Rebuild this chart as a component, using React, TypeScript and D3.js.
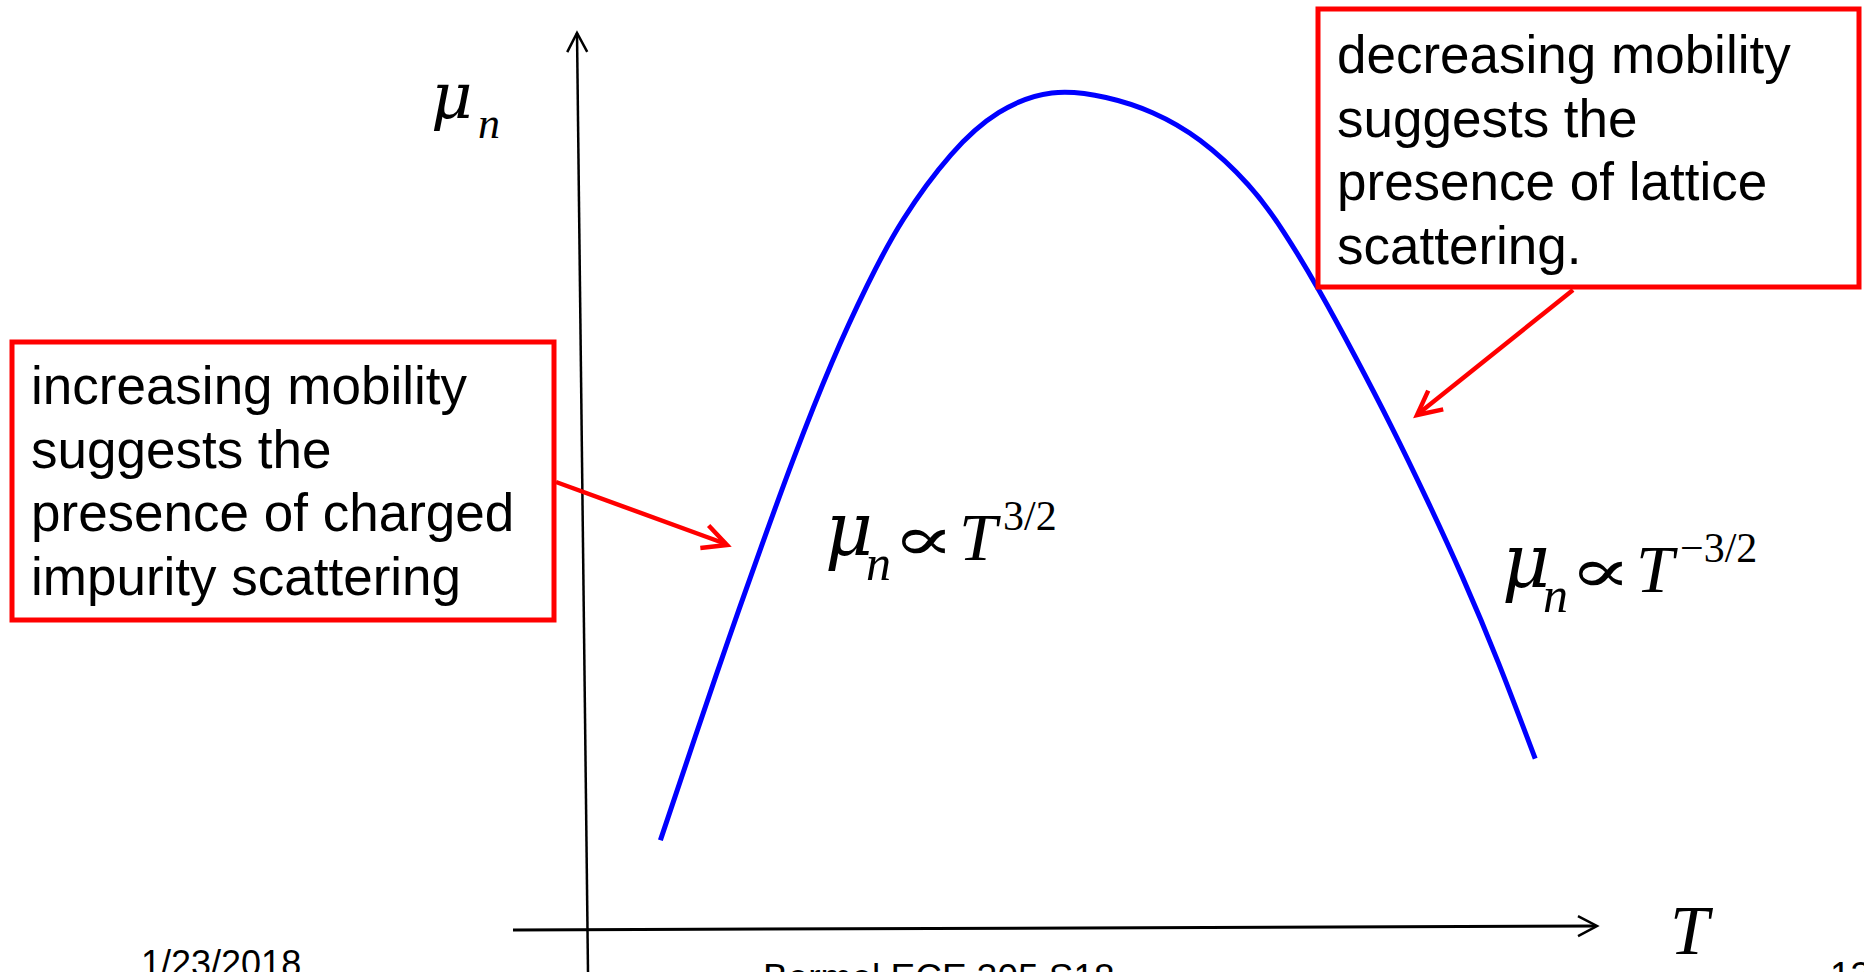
import React from "react";
import * as d3 from "d3";

// Schematic mobility vs temperature curve (arbitrary units, 0–100 on each axis)
const temperature = [13.6, 16.8, 19.8, 22.9, 25.9, 29.4, 32.7, 36.0, 40.4, 44.8, 49.7, 54.7, 59.0, 63.4, 67.8, 71.1, 74.4, 77.7, 81.0, 84.3, 87.6, 90.9, 94.3];
const mobility = [9.9, 21.4, 32.0, 42.6, 52.5, 63.1, 71.8, 79.1, 86.3, 91.0, 93.2, 92.7, 91.0, 87.9, 83.0, 77.7, 71.1, 63.8, 56.1, 47.9, 39.2, 29.7, 19.0];

const leftBoxLines = ["increasing mobility", "suggests the", "presence of charged", "impurity scattering"];
const rightBoxLines = ["decreasing mobility", "suggests the", "presence of lattice", "scattering."];
const footerLeft = "1/23/2018";
const footerCenter = "Bermel ECE 305 S18";
const footerRight = "13";

const W = 1864;
const H = 972;

export default function App() {
  const x = d3.scaleLinear().domain([0, 100]).range([513, 1597]);
  const y = d3.scaleLinear().domain([0, 100]).range([929, 32]);
  const pts: [number, number][] = temperature.map((t, i) => [x(t), y(mobility[i])]);
  const line = d3.line().curve(d3.curveNatural);
  const d = line(pts) || "";

  const serif = "'Liberation Serif', 'Times New Roman', 'DejaVu Serif', serif";
  const greek = "'DejaVu Serif', 'Liberation Serif', serif";
  const sans = "'Liberation Sans', Arial, Helvetica, sans-serif";

  const arrowHead = (tx: number, ty: number, fx: number, fy: number, len: number, half: number) => {
    const ang = Math.atan2(ty - fy, tx - fx);
    const bx = tx - len * Math.cos(ang);
    const by = ty - len * Math.sin(ang);
    const px = -Math.sin(ang) * half;
    const py = Math.cos(ang) * half;
    return `M${bx + px},${by + py}L${tx},${ty}L${bx - px},${by - py}`;
  };

  const formula = (mx: number, by: number, sup: string) => (
    <g>
      <text x={mx} y={by - 5} fontFamily={greek} fontStyle="italic" fontSize={74} fill="#000">μ</text>
      <text x={mx + 41} y={by + 20} fontFamily={serif} fontStyle="italic" fontSize={50} fill="#000">n</text>
      <text transform={`translate(${mx + 67},${by}) scale(1.5,1)`} x={0} y={0} fontFamily={greek} fontSize={62} fill="#000">∝</text>
      <text x={mx + 134} y={by} fontFamily={serif} fontStyle="italic" fontSize={68} fill="#000">T</text>
      <text x={mx + 178} y={by - 30} fontFamily={serif} fontSize={42} fill="#000">{sup}</text>
    </g>
  );

  return (
    <svg width={W} height={H} style={{ position: "absolute", left: 0, top: 0, display: "block", background: "#fff" }}>
      <rect x={0} y={0} width={W} height={H} fill="#fff" />
      {/* axes */}
      <line x1={577} y1={33} x2={588} y2={972} stroke="#000" strokeWidth={2.5} />
      <path d={arrowHead(577, 33, 588, 972, 19, 10)} fill="none" stroke="#000" strokeWidth={2.5} />
      <line x1={513} y1={930} x2={1596} y2={926} stroke="#000" strokeWidth={3} />
      <path d={arrowHead(1597, 926, 513, 930, 19, 10)} fill="none" stroke="#000" strokeWidth={2.5} />

      {/* curve */}
      <path d={d} fill="none" stroke="#0000ff" strokeWidth={5} />

      {/* axis labels */}
      <text x={431} y={118} fontFamily={greek} fontStyle="italic" fontSize={64} fill="#000">μ</text>
      <text x={478} y={138} fontFamily={serif} fontStyle="italic" fontSize={44} fill="#000">n</text>
      <text x={1670} y={954} fontFamily={serif} fontStyle="italic" fontSize={70} fill="#000">T</text>

      {formula(825, 560, "3/2")}
      {formula(1502, 592, "−3/2")}

      {/* left annotation */}
      <rect x={12} y={342} width={542} height={278} fill="#fff" stroke="#ff0000" strokeWidth={5} />
      <text fontFamily={sans} fontSize={53} fill="#000">
        {leftBoxLines.map((s, i) => (
          <tspan key={i} x={31} y={404 + i * 63.5}>{s}</tspan>
        ))}
      </text>
      <line x1={556} y1={482} x2={726} y2={544} stroke="#ff0000" strokeWidth={4.5} />
      <path d={arrowHead(727, 545, 556, 482, 24, 12)} fill="none" stroke="#ff0000" strokeWidth={4.5} />

      {/* right annotation */}
      <rect x={1318} y={9} width={541} height={278} fill="#fff" stroke="#ff0000" strokeWidth={5} />
      <text fontFamily={sans} fontSize={53} fill="#000">
        {rightBoxLines.map((s, i) => (
          <tspan key={i} x={1337} y={73 + i * 63.5}>{s}</tspan>
        ))}
      </text>
      <line x1={1573} y1={290} x2={1418} y2={414} stroke="#ff0000" strokeWidth={4.5} />
      <path d={arrowHead(1417, 415, 1573, 290, 24, 12)} fill="none" stroke="#ff0000" strokeWidth={4.5} />

      {/* footer */}
      <text x={141} y={976} fontFamily={sans} fontSize={36} fill="#000">{footerLeft}</text>
      <text x={763} y={990} fontFamily={sans} fontSize={37} fill="#000">{footerCenter}</text>
      <text x={1830} y={988} fontFamily={sans} fontSize={37} fill="#000">{footerRight}</text>
    </svg>
  );
}
